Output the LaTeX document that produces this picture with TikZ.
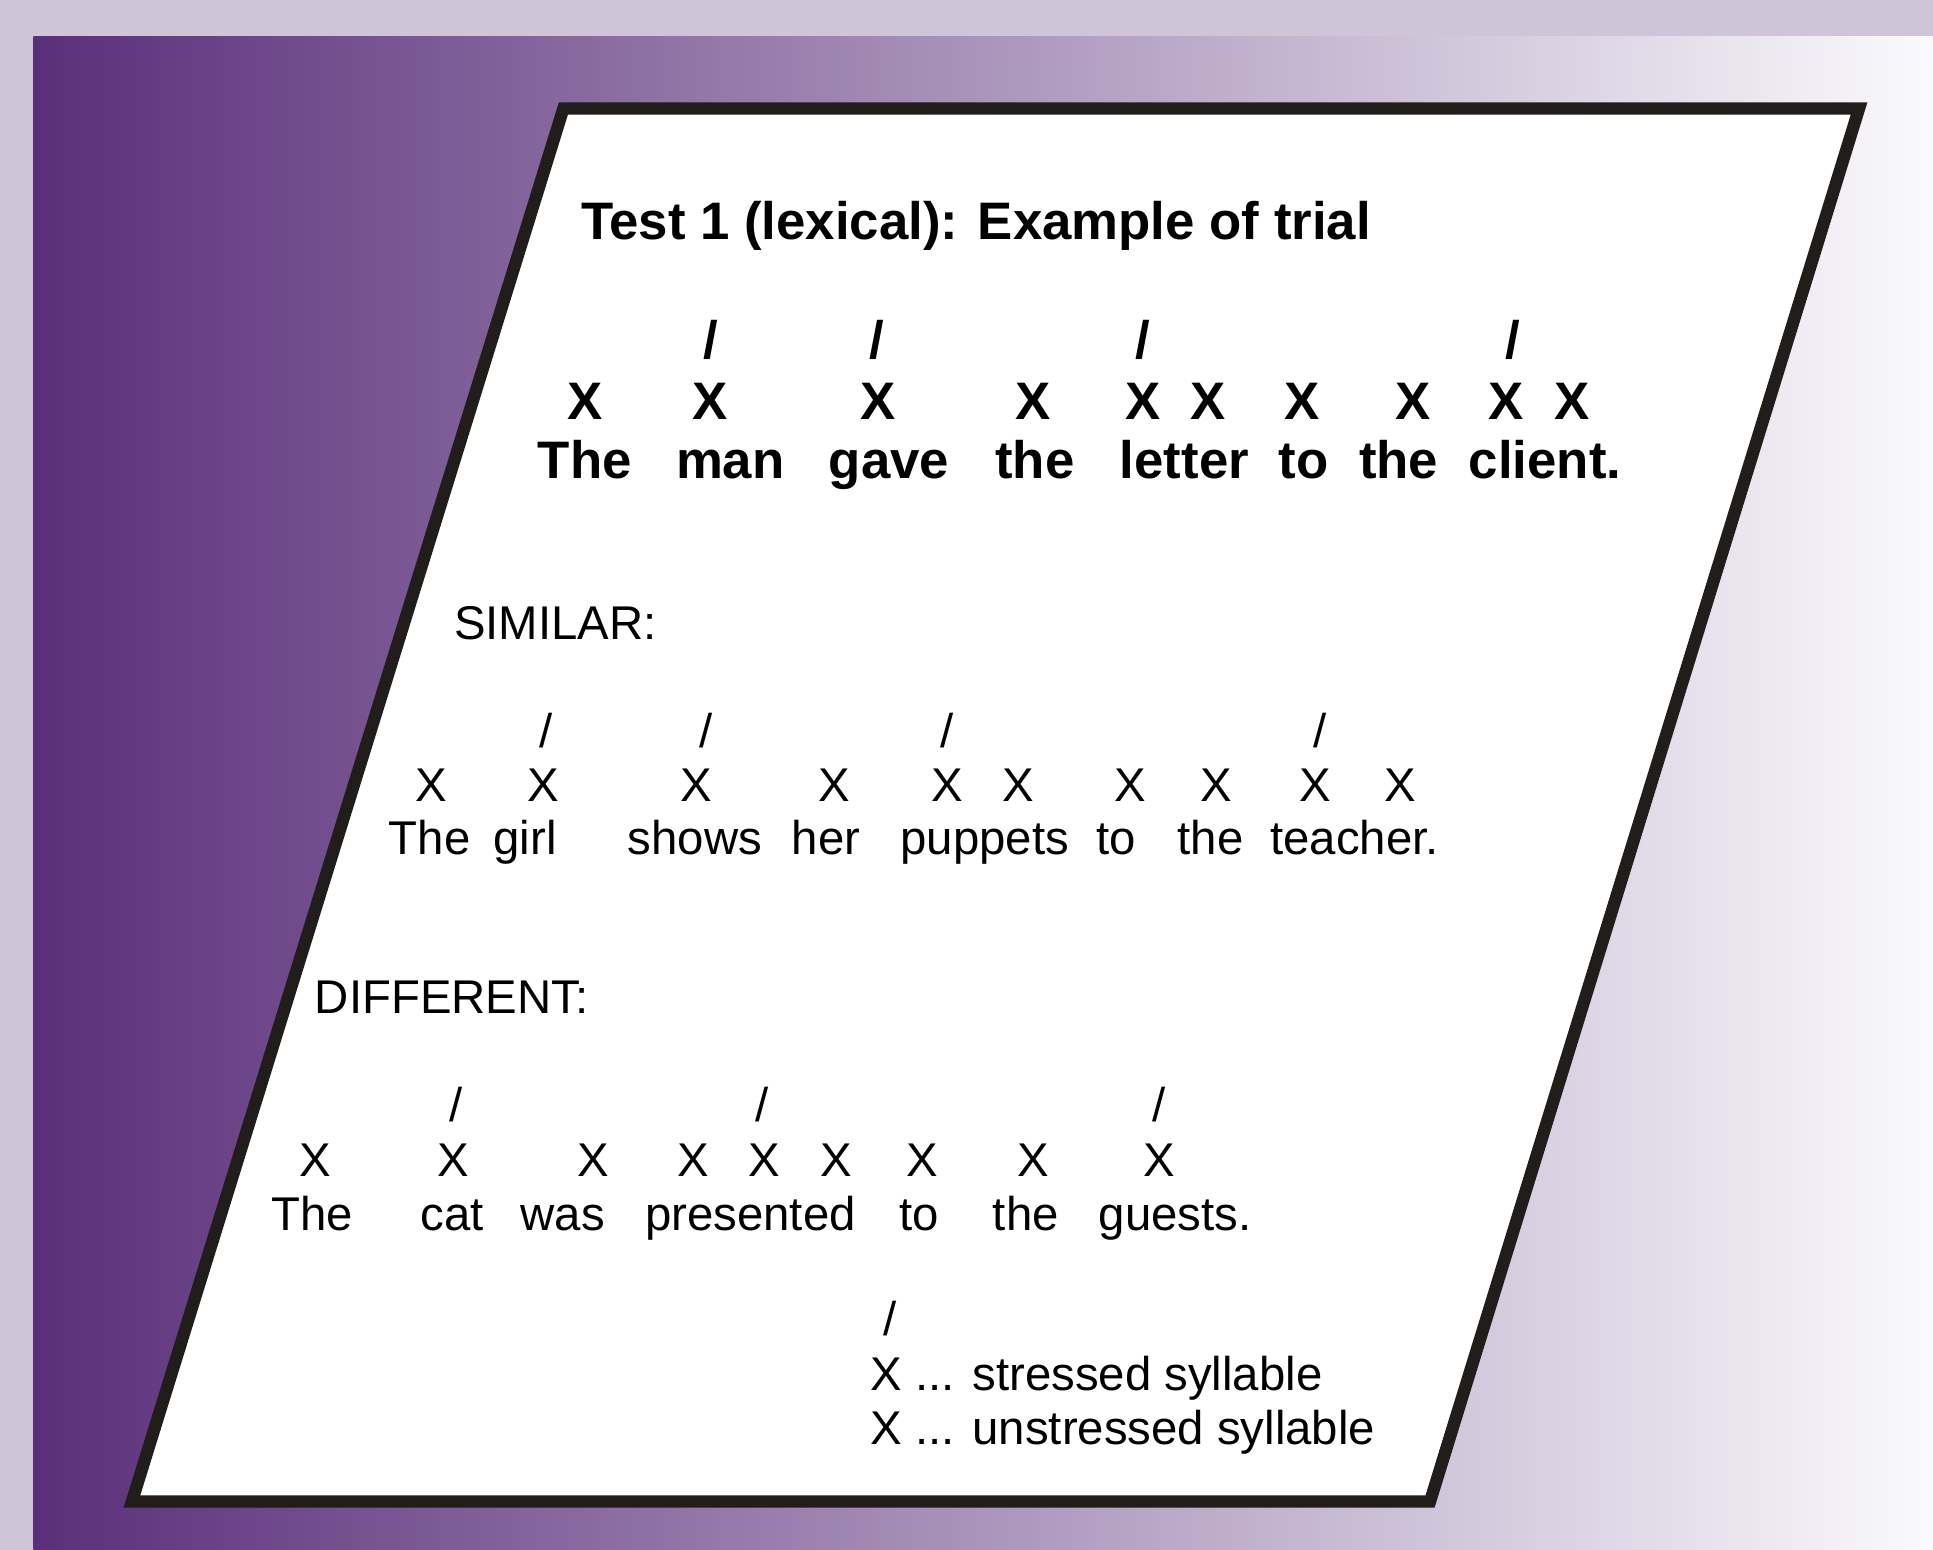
\documentclass[tikz,border=0pt]{standalone}
\usepackage{fontspec}
\setmainfont{Liberation Sans}
\definecolor{outerbg}{RGB}{208,196,216}
\definecolor{gradL}{RGB}{90,47,122}
\definecolor{gradR}{RGB}{250,250,252}
\definecolor{framecol}{RGB}{33,29,27}
\begin{document}
\begin{tikzpicture}[x=0.5pt,y=-0.5pt,
  bwd/.style={font=\fontsize{21.4}{26}\selectfont\bfseries, inner sep=0pt, anchor=base west},
  bx/.style={font=\fontsize{21.4}{26}\selectfont\bfseries, inner sep=0pt, anchor=base},
  rwd/.style={font=\fontsize{19.2}{23}\selectfont, inner sep=0pt, anchor=base west},
  rx/.style={font=\fontsize{19.2}{23}\selectfont, inner sep=0pt, anchor=base}]
\useasboundingbox (0,0) rectangle (1568,1257);
\fill[outerbg] (0,0) rectangle (1568,1257);
\shade[left color=gradL, right color=gradR] (27,30) rectangle (1568,1257);
\draw[framecol, line width=5pt, fill=white, line join=miter]
  (457,88) -- (1508,88) -- (1160,1218) -- (107,1218) -- cycle;
% title
\node[bwd] (title) at (471,194) {Test 1 (lexical): Example of trial};
% sentence 1
\foreach \x [count=\i] in {577,711,927,1227}
  \node[bx] (as\i) at (\x,291) {/};
\foreach \x [count=\i] in {475,576,712,838,927,980,1056,1146,1222,1275}
  \node[bx] (ax\i) at (\x,340) {X};
\foreach \x/\w [count=\i] in {436/The,548/man,672/gave,807/the,908/letter,1037/to,1102/the,1191/client.}
  \node[bwd] (aw\i) at (\x,388) {\w};
% similar
\node[rwd] (simlabel) at (368,519) {SIMILAR:};
\foreach \x [count=\i] in {443,573,768,1071}
  \node[rx] (bs\i) at (\x,606) {/};
\foreach \x [count=\i] in {350,441,565,677,768,826,917,987,1067,1136}
  \node[rx] (bx\i) at (\x,650) {X};
\foreach \x/\w [count=\i] in {315/The,400/girl,509/shows,642/her,730/puppets,889/to,955/the,1030/teacher.}
  \node[rwd] (bw\i) at (\x,693) {\w};
% different
\node[rwd] (difflabel) at (255,822) {DIFFERENT:};
\foreach \x [count=\i] in {370,618,940}
  \node[rx] (cs\i) at (\x,910) {/};
\foreach \x [count=\i] in {256,368,481,562,620,678,748,838,940}
  \node[rx] (cx\i) at (\x,954) {X};
\foreach \x/\w [count=\i] in {220/The,341/cat,422/was,523/presented,729/to,805/the,891/guests.}
  \node[rwd] (cw\i) at (\x,998) {\w};
% legend
\node[rx] (legslash) at (722,1083) {/};
\node[rwd] (leg1) at (706,1128) {X ... stressed syllable};
\node[rwd] (leg2) at (706,1172) {X ... unstressed syllable};
\end{tikzpicture}
\end{document}
